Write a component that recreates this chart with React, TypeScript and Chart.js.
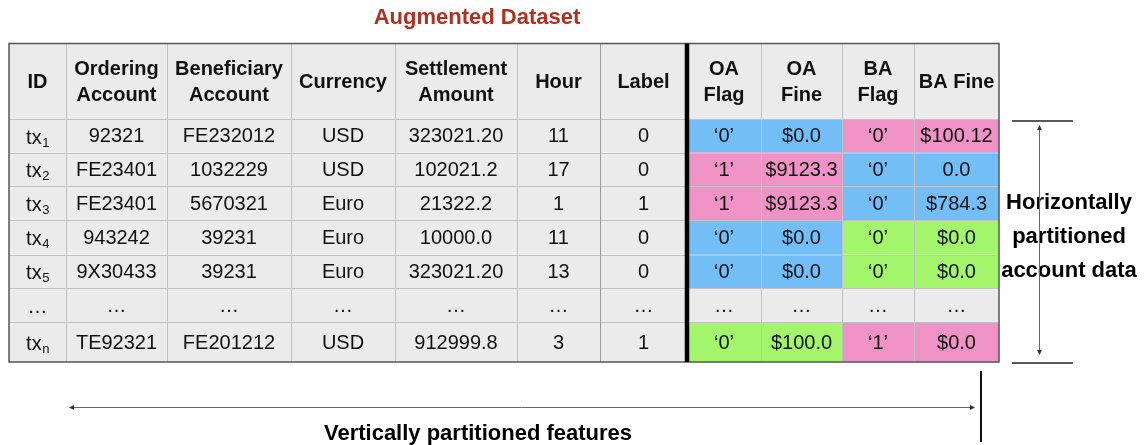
import React, { useEffect, useRef } from "react";
import { Chart, registerables } from "chart.js";

Chart.register(...registerables);

// ---------- data ----------
const title = "Augmented Dataset";
const headers: string[][] = [
  ["ID"],
  ["Ordering", "Account"],
  ["Beneficiary", "Account"],
  ["Currency"],
  ["Settlement", "Amount"],
  ["Hour"],
  ["Label"],
  ["OA", "Flag"],
  ["OA", "Fine"],
  ["BA", "Flag"],
  ["BA Fine"],
];
const idBase = ["tx", "tx", "tx", "tx", "tx", "…", "tx"];
const idSub = ["1", "2", "3", "4", "5", "", "n"];
const orderingAccount = ["92321", "FE23401", "FE23401", "943242", "9X30433", "…", "TE92321"];
const beneficiaryAccount = ["FE232012", "1032229", "5670321", "39231", "39231", "…", "FE201212"];
const currency = ["USD", "USD", "Euro", "Euro", "Euro", "…", "USD"];
const settlementAmount = ["323021.20", "102021.2", "21322.2", "10000.0", "323021.20", "…", "912999.8"];
const hour = ["11", "17", "1", "11", "13", "…", "3"];
const label = ["0", "0", "1", "0", "0", "…", "1"];
const oaFlag = ["‘0’", "‘1’", "‘1’", "‘0’", "‘0’", "…", "‘0’"];
const oaFine = ["$0.0", "$9123.3", "$9123.3", "$0.0", "$0.0", "…", "$100.0"];
const baFlag = ["‘0’", "‘0’", "‘0’", "‘0’", "‘0’", "…", "‘1’"];
const baFine = ["$100.12", "0.0", "$784.3", "$0.0", "$0.0", "…", "$0.0"];
const oaParty = ["blue", "pink", "pink", "blue", "blue", "", "green"];
const baParty = ["pink", "blue", "blue", "green", "green", "", "pink"];
const sideLabel = ["Horizontally", "partitioned", "account data"];
const bottomLabel = "Vertically partitioned features";

// ---------- layout & style ----------
const W = 1144;
const H = 445;
const colEdges = [9, 66, 167, 291, 395, 517, 600, 687, 761, 842, 914, 999];
const rowEdges = [43.5, 119, 152.5, 186, 220, 254.5, 288, 322, 362];
const splitCol = 7; // thick divider before this column
const partyColors: Record<string, string> = {
  blue: "#74bef8",
  pink: "#ef92c5",
  green: "#a3f56b",
};
const cellGray = "#ebebeb";
const FONT = "'Liberation Sans', Arial, Helvetica, sans-serif";

const tablePlugin = {
  id: "tablePlugin",
  afterDraw(chart: any) {
    const ctx: CanvasRenderingContext2D = chart.ctx;
    const xs = chart.scales.x;
    const ys = chart.scales.y;
    const X = (v: number) => xs.getPixelForValue(v);
    const Y = (v: number) => ys.getPixelForValue(v);
    const cols = [
      null,
      orderingAccount,
      beneficiaryAccount,
      currency,
      settlementAmount,
      hour,
      label,
      oaFlag,
      oaFine,
      baFlag,
      baFine,
    ];
    const nRows = idBase.length;
    ctx.save();

    // title
    ctx.fillStyle = "#b0311f";
    ctx.font = `bold 22px ${FONT}`;
    ctx.textAlign = "center";
    ctx.textBaseline = "middle";
    ctx.fillText(title, X(477), Y(18));

    // cell fills
    for (let c = 0; c < headers.length; c++) {
      const x0 = X(colEdges[c]);
      const x1 = X(colEdges[c + 1]);
      ctx.fillStyle = cellGray;
      ctx.fillRect(x0, Y(rowEdges[0]), x1 - x0, Y(rowEdges[1]) - Y(rowEdges[0]));
      for (let r = 0; r < nRows; r++) {
        let fill = cellGray;
        if (c >= splitCol) {
          const party = c < splitCol + 2 ? oaParty[r] : baParty[r];
          if (party && partyColors[party]) fill = partyColors[party];
        }
        ctx.fillStyle = fill;
        const y0 = Y(rowEdges[r + 1]);
        const y1 = Y(rowEdges[r + 2]);
        ctx.fillRect(x0, y0, x1 - x0, y1 - y0);
      }
    }

    // grid lines
    ctx.lineWidth = 1;
    ctx.strokeStyle = "#c2c2c2";
    for (let r = 1; r < rowEdges.length - 1; r++) {
      const yy = Math.round(Y(rowEdges[r])) + 0.5;
      ctx.beginPath();
      ctx.moveTo(X(colEdges[0]), yy);
      ctx.lineTo(X(colEdges[colEdges.length - 1]), yy);
      ctx.stroke();
    }
    for (let c = 1; c < colEdges.length - 1; c++) {
      if (c === splitCol) continue;
      const xx = Math.round(X(colEdges[c])) + 0.5;
      ctx.strokeStyle = c === splitCol - 1 ? "#9a9a9a" : "#c2c2c2";
      ctx.beginPath();
      ctx.moveTo(xx, Y(rowEdges[0]));
      ctx.lineTo(xx, Y(rowEdges[rowEdges.length - 1]));
      ctx.stroke();
    }
    // outer border
    ctx.strokeStyle = "#555";
    ctx.lineWidth = 1.5;
    ctx.strokeRect(
      X(colEdges[0]),
      Y(rowEdges[0]),
      X(colEdges[colEdges.length - 1]) - X(colEdges[0]),
      Y(rowEdges[rowEdges.length - 1]) - Y(rowEdges[0])
    );
    // thick divider
    ctx.strokeStyle = "#000";
    ctx.lineWidth = 4.5;
    ctx.beginPath();
    ctx.moveTo(X(colEdges[splitCol]), Y(rowEdges[0]));
    ctx.lineTo(X(colEdges[splitCol]), Y(rowEdges[rowEdges.length - 1]));
    ctx.stroke();

    // header text
    ctx.fillStyle = "#111";
    ctx.font = `bold 20px ${FONT}`;
    ctx.textAlign = "center";
    ctx.textBaseline = "middle";
    const hc = (Y(rowEdges[0]) + Y(rowEdges[1])) / 2 + 1;
    for (let c = 0; c < headers.length; c++) {
      const cx = (X(colEdges[c]) + X(colEdges[c + 1])) / 2;
      const lines = headers[c];
      const lh = 26;
      lines.forEach((t, i) => {
        ctx.fillText(t, cx, hc + (i - (lines.length - 1) / 2) * lh);
      });
    }

    // body text
    ctx.font = `20px ${FONT}`;
    for (let r = 0; r < nRows; r++) {
      const cy = (Y(rowEdges[r + 1]) + Y(rowEdges[r + 2])) / 2 + 1;
      // ID with subscript
      const idCx = (X(colEdges[0]) + X(colEdges[1])) / 2;
      ctx.font = `20px ${FONT}`;
      const w1 = ctx.measureText(idBase[r]).width;
      ctx.font = `13px ${FONT}`;
      const w2 = idSub[r] ? ctx.measureText(idSub[r]).width : 0;
      const start = idCx - (w1 + w2) / 2;
      ctx.textAlign = "left";
      ctx.textBaseline = "alphabetic";
      ctx.font = `20px ${FONT}`;
      ctx.fillText(idBase[r], start, cy + 7);
      if (idSub[r]) {
        ctx.font = `13px ${FONT}`;
        ctx.fillText(idSub[r], start + w1 + 0.5, cy + 10);
      }
      ctx.textAlign = "center";
      ctx.textBaseline = "middle";
      ctx.font = `20px ${FONT}`;
      for (let c = 1; c < cols.length; c++) {
        const arr = cols[c] as string[];
        const cx = (X(colEdges[c]) + X(colEdges[c + 1])) / 2;
        ctx.fillText(arr[r], cx, cy);
      }
    }

    // side label
    ctx.fillStyle = "#000";
    ctx.font = `bold 22px ${FONT}`;
    const sideY = [203, 237, 271];
    sideLabel.forEach((t, i) => ctx.fillText(t, X(1069), Y(sideY[i])));

    // bottom label
    ctx.fillText(bottomLabel, X(478), Y(434));

    // short bracket lines on the right
    ctx.strokeStyle = "#222";
    ctx.lineWidth = 1.5;
    [121, 363].forEach((yy) => {
      ctx.beginPath();
      ctx.moveTo(X(1012), Y(yy));
      ctx.lineTo(X(1073), Y(yy));
      ctx.stroke();
    });
    // vertical bar at bottom right
    ctx.lineWidth = 2;
    ctx.strokeStyle = "#111";
    ctx.beginPath();
    ctx.moveTo(X(981), Y(371));
    ctx.lineTo(X(981), Y(442));
    ctx.stroke();

    // arrows
    const arrowHead = (tx: number, ty: number, dx: number, dy: number) => {
      const len = 5;
      const hw = 2.5;
      const bx = tx - dx * len;
      const by = ty - dy * len;
      ctx.beginPath();
      ctx.moveTo(tx, ty);
      ctx.lineTo(bx - dy * hw, by + dx * hw);
      ctx.lineTo(bx + dy * hw, by - dx * hw);
      ctx.closePath();
      ctx.fill();
    };
    ctx.strokeStyle = "#666";
    ctx.fillStyle = "#333";
    ctx.lineWidth = 1;
    // horizontal
    const ay = Math.round(Y(407)) + 0.5;
    ctx.beginPath();
    ctx.moveTo(X(71), ay);
    ctx.lineTo(X(972), ay);
    ctx.stroke();
    arrowHead(X(69), ay, -1, 0);
    arrowHead(X(975), ay, 1, 0);
    // vertical
    const ax = Math.round(X(1039)) + 0.5;
    ctx.beginPath();
    ctx.moveTo(ax, Y(128));
    ctx.lineTo(ax, Y(352));
    ctx.stroke();
    arrowHead(ax, Y(125), 0, -1);
    arrowHead(ax, Y(355), 0, 1);

    ctx.restore();
  },
};

export default function App() {
  const ref = useRef<HTMLCanvasElement | null>(null);
  useEffect(() => {
    if (!ref.current) return;
    const chart = new Chart(ref.current, {
      type: "scatter",
      data: { datasets: [{ data: [], pointRadius: 0 }] },
      options: {
        responsive: false,
        animation: false,
        events: [],
        layout: { padding: 0 },
        plugins: {
          legend: { display: false },
          title: { display: false },
          tooltip: { enabled: false },
        },
        scales: {
          x: { type: "linear", min: 0, max: W, display: false },
          y: { type: "linear", min: 0, max: H, reverse: true, display: false },
        },
      },
      plugins: [tablePlugin],
    });
    return () => chart.destroy();
  }, []);
  return (
    <div style={{ position: "absolute", left: 0, top: 0, width: W, height: H, background: "#fff" }}>
      <canvas ref={ref} width={W} height={H} style={{ width: W, height: H, display: "block" }} />
    </div>
  );
}
